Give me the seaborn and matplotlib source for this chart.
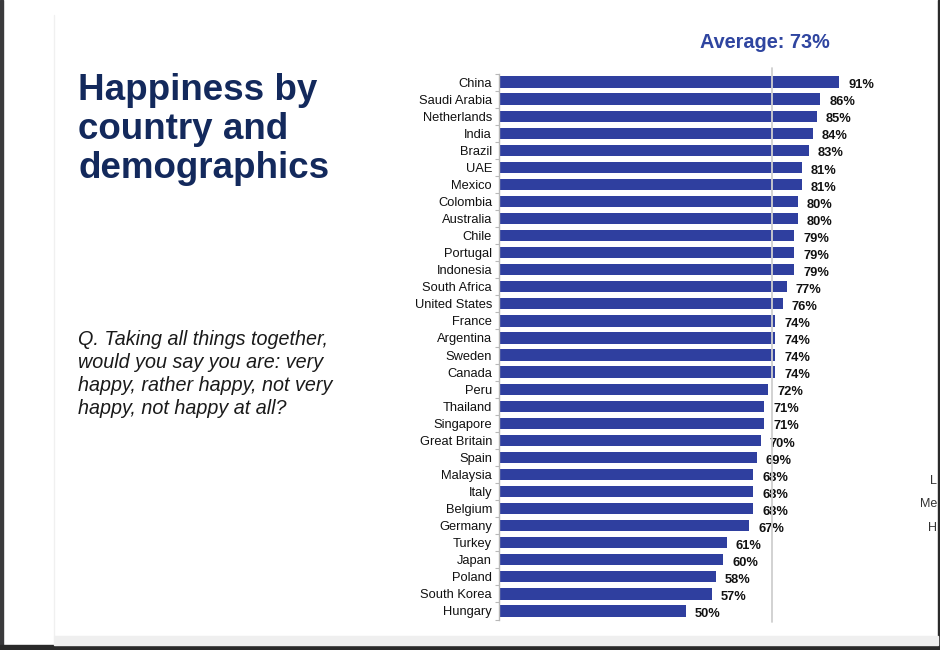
import matplotlib
matplotlib.use("Agg")
import matplotlib.pyplot as plt
import seaborn as sns
import pandas as pd
from matplotlib.patches import Rectangle
from matplotlib.ticker import FixedLocator

countries = ["China", "Saudi Arabia", "Netherlands", "India", "Brazil", "UAE", "Mexico",
             "Colombia", "Australia", "Chile", "Portugal", "Indonesia", "South Africa",
             "United States", "France", "Argentina", "Sweden", "Canada", "Peru", "Thailand",
             "Singapore", "Great Britain", "Spain", "Malaysia", "Italy", "Belgium", "Germany",
             "Turkey", "Japan", "Poland", "South Korea", "Hungary"]
happy_pct = [91, 86, 85, 84, 83, 81, 81, 80, 80, 79, 79, 79, 77, 76, 74, 74, 74, 74, 72,
             71, 71, 70, 69, 68, 68, 68, 67, 61, 60, 58, 57, 50]
average_pct = 73
title_text = "Happiness by\ncountry and\ndemographics"
question_text = ("Q. Taking all things together,\nwould you say you are: very\n"
                 "happy, rather happy, not very\nhappy, not happy at all?")
legend_stub = ["L", "Me", "H"]

df = pd.DataFrame({"country": countries, "pct": happy_pct})

sns.set_theme(style="white")
plt.rcParams["font.family"] = ["Liberation Sans", "DejaVu Sans"]

W, H = 940, 650
fig = plt.figure(figsize=(W / 100, H / 100), dpi=100)
fig.patch.set_facecolor("white")

# slide frame decorations
fig.add_artist(Rectangle((0, 0), 3 / W, 1, transform=fig.transFigure, color="#3a3a3c", zorder=0))
fig.add_artist(Rectangle((0, 0), 1, 5 / H, transform=fig.transFigure, color="#2a2a2a", zorder=0))
fig.add_artist(Rectangle((938 / W, 0), 2 / W, 1, transform=fig.transFigure, color="#2a2a2a", zorder=0))
fig.add_artist(Rectangle((54 / W, 5 / H), 1 - 56 / W, 9 / H, transform=fig.transFigure,
                         color="#efefef", zorder=0))
fig.add_artist(plt.Line2D([54 / W, 54 / W], [14 / H, 1 - 15 / H], transform=fig.transFigure,
                          color="#f0f0f0", lw=1))

# axes in pixel coordinates
x0, px_per_pct = 499, 3.736
top, bottom = 73.5, 619.5
ax = fig.add_axes([x0 / W, 1 - bottom / H, 100 * px_per_pct / W, (bottom - top) / H])
sns.barplot(data=df, y="country", x="pct", orient="h", color="#2f3f9f", saturation=1,
            width=0.66, ax=ax, edgecolor="none")
ax.set_xlim(0, 100)
ax.set_ylim(len(countries) - 0.5, -0.5)
ax.set_xlabel("")
ax.set_ylabel("")
ax.set_facecolor("none")
for s in ["top", "right", "bottom"]:
    ax.spines[s].set_visible(False)
ax.spines["left"].set_color("#b8b8b8")
ax.spines["left"].set_linewidth(1)
ax.set_xticks([])
ax.tick_params(axis="y", which="major", length=0, pad=5, labelsize=9.3, labelcolor="#111111")
ax.yaxis.set_minor_locator(FixedLocator([i - 0.5 for i in range(len(countries) + 1)]))
ax.tick_params(axis="y", which="minor", length=3, color="#b8b8b8", width=0.8, left=True)

ax.axvline(average_pct, ymin=-0.005, ymax=1.01, color="#cfcfcf", lw=1.3, clip_on=False, zorder=5)

for i, v in enumerate(happy_pct):
    ax.annotate(f"{v}%", xy=(v, i), xytext=(6.5, -2.3), textcoords="offset points",
                ha="left", va="center", fontsize=9.3, fontweight="bold", color="#111111")

fig.text(765 / W, 1 - 43 / H, f"Average: {average_pct}%", ha="center", va="center",
         fontsize=14.3, fontweight="bold", color="#2f45a0")

fig.text(78 / W, 1 - 73 / H, title_text, ha="left", va="top", fontsize=26.5, fontweight="bold",
         color="#13295c", linespacing=1.14)

fig.text(78 / W, 1 - 330 / H, question_text, ha="left", va="top", fontsize=14.2,
         fontstyle="italic", color="#1a1a1a", linespacing=1.27)

for lab, y in zip(legend_stub, [481, 504, 528]):
    fig.text(937 / W, 1 - y / H, lab, ha="right", va="center", fontsize=9, color="#333333")

fig.savefig("out.png", dpi=100)
